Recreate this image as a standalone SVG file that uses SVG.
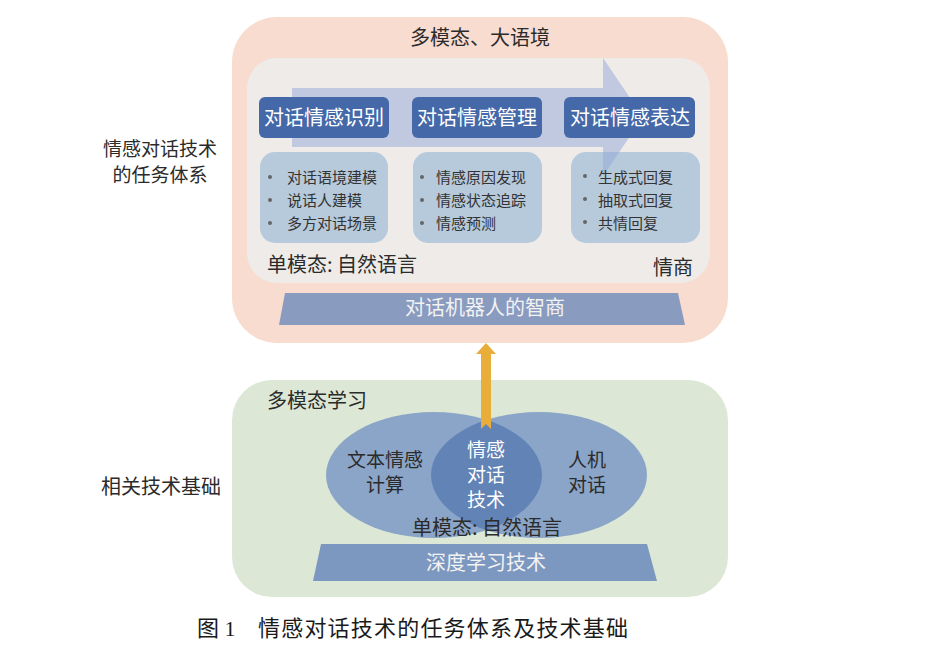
<svg xmlns="http://www.w3.org/2000/svg" width="943" height="663" viewBox="0 0 943 663">
<defs>
<style>
text{font-family:"Noto Sans CJK SC","Liberation Sans",sans-serif;fill:#2b2b2b}
.t20{font-size:20px}
.t19{font-size:19px}
.mid{text-anchor:middle}
.wt{fill:#ffffff}
.bul{font-size:15px;fill:#333333}
.dot{fill:#666666}
.dark{fill:#4468A8}
.light{fill:#B7CADB}
.cap{font-family:"Liberation Serif","Noto Sans CJK SC",serif;font-size:22px;fill:#1a1a1a}
</style>
<clipPath id="clipL"><ellipse cx="434" cy="475" rx="108" ry="63"/></clipPath>
</defs>
<rect width="943" height="663" fill="#ffffff"/>

<g id="left-labels">
<text class="t19 mid" x="160" y="156">情感对话技术</text>
<text class="t19 mid" x="160" y="182">的任务体系</text>
<text class="t20 mid" x="161" y="494">相关技术基础</text>
</g>

<g id="task-panel">
<rect x="232" y="17" width="496" height="326" rx="45" fill="#F8DCD0"/>
<text class="t20 mid" x="480" y="45">多模态、大语境</text>
<rect x="247" y="58" width="463" height="225" rx="30" fill="#EEEBE8"/>
</g>

<g id="light-boxes">
<rect class="light" x="260" y="152" width="128" height="91" rx="15"/>
<rect class="light" x="413" y="152" width="129" height="91" rx="15"/>
<rect class="light" x="571" y="152" width="129" height="91" rx="15"/>
</g>

<g id="flow-arrow">
<polygon points="292,88 603,88 603,58 643,117 603,176 603,147 292,147" fill="#92A7D8" opacity="0.5"/>
</g>

<g id="node-recognition">
<rect class="dark" x="259" y="97" width="130" height="41" rx="6"/>
<text class="t20 mid wt" x="324" y="125">对话情感识别</text>
</g>
<g id="node-management">
<rect class="dark" x="412" y="97" width="130" height="41" rx="6"/>
<text class="t20 mid wt" x="477" y="125">对话情感管理</text>
</g>
<g id="node-expression">
<rect class="dark" x="564" y="97" width="131" height="41" rx="6"/>
<text class="t20 mid wt" x="630" y="125">对话情感表达</text>
</g>

<g id="list-recognition">
<circle class="dot" cx="270" cy="177" r="2"/>
<circle class="dot" cx="270" cy="200" r="2"/>
<circle class="dot" cx="270" cy="223" r="2"/>
<text class="bul" x="287" y="183">对话语境建模</text>
<text class="bul" x="287" y="206">说话人建模</text>
<text class="bul" x="287" y="229">多方对话场景</text>
</g>
<g id="list-management">
<circle class="dot" cx="422" cy="177" r="2"/>
<circle class="dot" cx="422" cy="200" r="2"/>
<circle class="dot" cx="422" cy="223" r="2"/>
<text class="bul" x="436" y="183">情感原因发现</text>
<text class="bul" x="436" y="206">情感状态追踪</text>
<text class="bul" x="436" y="229">情感预测</text>
</g>
<g id="list-expression">
<circle class="dot" cx="585" cy="176" r="2"/>
<circle class="dot" cx="585" cy="199" r="2"/>
<circle class="dot" cx="585" cy="222" r="2"/>
<text class="bul" x="598" y="183">生成式回复</text>
<text class="bul" x="598" y="206">抽取式回复</text>
<text class="bul" x="598" y="229">共情回复</text>
</g>

<g id="panel-notes">
<text class="t20" x="267" y="272">单模态: 自然语言</text>
<text class="t20" x="653" y="275">情商</text>
</g>

<g id="node-iq">
<polygon points="285,293 678,293 685,325 279,325" fill="#8A9BC0"/>
<text class="t20 mid" x="485" y="315" style="fill:#F2F2F2">对话机器人的智商</text>
</g>

<g id="foundation-panel">
<rect x="232" y="380" width="496" height="217" rx="40" fill="#DCE7D5"/>
<text class="t20" x="267" y="408">多模态学习</text>
</g>

<g id="node-text-emotion">
<ellipse cx="434" cy="475" rx="108" ry="63" fill="#8AA5C7"/>
</g>
<g id="node-hci">
<ellipse cx="539" cy="475" rx="108" ry="63" fill="#8AA5C7"/>
</g>
<g id="node-core">
<ellipse cx="539" cy="475" rx="108" ry="63" fill="#6283B6" clip-path="url(#clipL)"/>
</g>
<g id="ellipse-labels">
<text class="t19 mid" x="385" y="467">文本情感</text>
<text class="t19 mid" x="385" y="492">计算</text>
<text class="t19 mid wt" x="486" y="457">情感</text>
<text class="t19 mid wt" x="486" y="482">对话</text>
<text class="t19 mid wt" x="486" y="507">技术</text>
<text class="t19 mid" x="587" y="467">人机</text>
<text class="t19 mid" x="587" y="492">对话</text>
<text class="t20 mid" x="487" y="535">单模态: 自然语言</text>
</g>

<g id="node-deep-learning">
<polygon points="321,544 647,544 657,581 313,581" fill="#7C98C0"/>
<text class="t20 mid" x="486" y="570" style="fill:#F2F2F2">深度学习技术</text>
</g>

<g id="connectors">
<polygon points="486,343 496,354 491,354 491,429 486,424 481,429 481,354 476,354" fill="#E9AD3A"/>
</g>

<g id="caption">
<text class="cap" x="197" y="636">图 1</text>
<text class="cap" x="258" y="636" textLength="370">情感对话技术的任务体系及技术基础</text>
</g>
</svg>
